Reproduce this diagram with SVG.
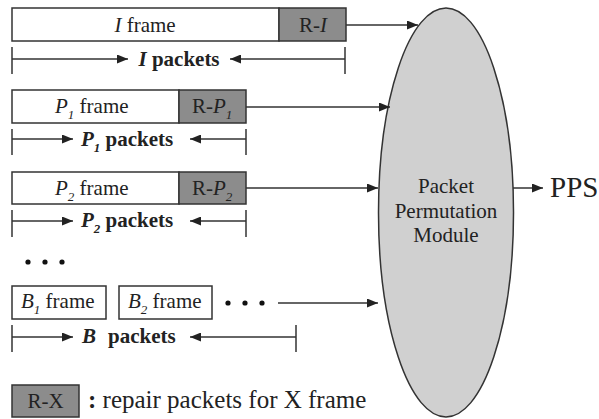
<svg xmlns="http://www.w3.org/2000/svg" width="599" height="419" viewBox="0 0 599 419">
<defs>
<marker id="ah" markerUnits="userSpaceOnUse" markerWidth="11" markerHeight="9" refX="11" refY="4.5" orient="auto">
<path d="M0,0 L11,4.5 L0,9 z" fill="#222"/>
</marker>
<style>
text{font-family:"Liberation Serif","Times New Roman",serif;font-size:21px;fill:#222}
.b{font-weight:bold}
.i{font-style:italic}
.sub{font-size:13px;font-style:italic}
.fr{fill:#fff;stroke:#333;stroke-width:1.5}
.rp{fill:#8c8c8c;stroke:#333;stroke-width:1.5}
.ln{stroke:#333;stroke-width:1.5;fill:none}
.ar{stroke:#333;stroke-width:1.5;fill:none;marker-end:url(#ah)}
.dot{fill:#111}
</style>
</defs>
<rect width="599" height="419" fill="#fff"/>

<g id="ppm">
<ellipse cx="446" cy="212.5" rx="67.5" ry="204.5" fill="#d0d0d0" stroke="#333" stroke-width="1.5"/>
<text x="446" y="193" text-anchor="middle">Packet</text>
<text x="446" y="218" text-anchor="middle">Permutation</text>
<text x="446" y="242" text-anchor="middle">Module</text>
</g>

<g id="pps">
<text x="550" y="197" style="font-size:29px">PPS</text>
</g>

<g id="iframe">
<rect class="fr" x="12" y="8" width="267" height="33"/>
<rect class="rp" x="279" y="8" width="67" height="33"/>
<text x="145" y="32" text-anchor="middle"><tspan class="i">I</tspan> frame</text>
<text x="313" y="32" text-anchor="middle">R-<tspan class="i">I</tspan></text>
</g>
<g id="ipackets">
<line class="ln" x1="12" y1="47" x2="12" y2="74"/>
<line class="ln" x1="345" y1="47" x2="345" y2="74"/>
<line class="ar" x1="12" y1="59" x2="128" y2="59"/>
<line class="ar" x1="345" y1="59" x2="230" y2="59"/>
<text x="179" y="66" text-anchor="middle" class="b"><tspan class="i">I</tspan> packets</text>
</g>

<g id="p1frame">
<rect class="fr" x="12" y="90" width="167" height="33"/>
<rect class="rp" x="179" y="90" width="67" height="33"/>
<text x="55" y="113"><tspan class="i">P</tspan><tspan class="sub" dy="6">1</tspan><tspan dy="-6"> frame</tspan></text>
<text x="192" y="113">R-<tspan class="i">P</tspan><tspan class="sub" dy="6">1</tspan></text>
</g>
<g id="p1packets">
<line class="ln" x1="12" y1="129" x2="12" y2="155"/>
<line class="ln" x1="246" y1="129" x2="246" y2="155"/>
<line class="ar" x1="12" y1="139" x2="73" y2="139"/>
<line class="ar" x1="246" y1="139" x2="190" y2="139"/>
<text x="81" y="146" class="b"><tspan class="i">P</tspan><tspan class="sub" dy="6" style="font-weight:bold">1</tspan><tspan dy="-6"> packets</tspan></text>
</g>

<g id="p2frame">
<rect class="fr" x="12" y="172" width="167" height="32"/>
<rect class="rp" x="179" y="172" width="67" height="32"/>
<text x="55" y="195"><tspan class="i">P</tspan><tspan class="sub" dy="6">2</tspan><tspan dy="-6"> frame</tspan></text>
<text x="192" y="195">R-<tspan class="i">P</tspan><tspan class="sub" dy="6">2</tspan></text>
</g>
<g id="p2packets">
<line class="ln" x1="12" y1="210" x2="12" y2="237"/>
<line class="ln" x1="246" y1="210" x2="246" y2="237"/>
<line class="ar" x1="12" y1="221" x2="73" y2="221"/>
<line class="ar" x1="246" y1="221" x2="190" y2="221"/>
<text x="81" y="227" class="b"><tspan class="i">P</tspan><tspan class="sub" dy="6" style="font-weight:bold">2</tspan><tspan dy="-6"> packets</tspan></text>
</g>

<g id="ellipsis">
<circle class="dot" cx="28" cy="262" r="2.6"/>
<circle class="dot" cx="45" cy="262" r="2.6"/>
<circle class="dot" cx="62" cy="262" r="2.6"/>
</g>

<g id="b1frame">
<rect class="fr" x="12" y="286" width="94" height="33"/>
<text x="21" y="308"><tspan class="i">B</tspan><tspan class="sub" dy="6">1</tspan><tspan dy="-6"> frame</tspan></text>
</g>
<g id="b2frame">
<rect class="fr" x="119" y="286" width="93" height="33"/>
<text x="128" y="308"><tspan class="i">B</tspan><tspan class="sub" dy="6">2</tspan><tspan dy="-6"> frame</tspan></text>
</g>
<g id="bdots">
<circle class="dot" cx="228" cy="303" r="2.6"/>
<circle class="dot" cx="245" cy="303" r="2.6"/>
<circle class="dot" cx="262" cy="303" r="2.6"/>
</g>
<g id="bpackets">
<line class="ln" x1="12" y1="325" x2="12" y2="352"/>
<line class="ln" x1="296" y1="325" x2="296" y2="352"/>
<line class="ar" x1="12" y1="337" x2="73" y2="337"/>
<line class="ar" x1="296" y1="337" x2="190" y2="337"/>
<text x="82" y="343" class="b"><tspan class="i">B</tspan>  <tspan x="108">packets</tspan></text>
</g>

<g id="legend">
<rect class="rp" x="12" y="385" width="67" height="32"/>
<text x="45.5" y="408" text-anchor="middle">R-X</text>
<text x="88" y="408" style="font-size:25px"><tspan class="b">:</tspan> repair packets for X frame</text>
</g>

<g id="connectors">
<line class="ar" x1="346" y1="25" x2="418" y2="25"/>
<line class="ar" x1="246" y1="107" x2="390" y2="107"/>
<line class="ar" x1="246" y1="188" x2="378" y2="188"/>
<line class="ar" x1="278" y1="303" x2="378" y2="303"/>
<line class="ar" x1="513" y1="188" x2="543" y2="188"/>
</g>
</svg>
